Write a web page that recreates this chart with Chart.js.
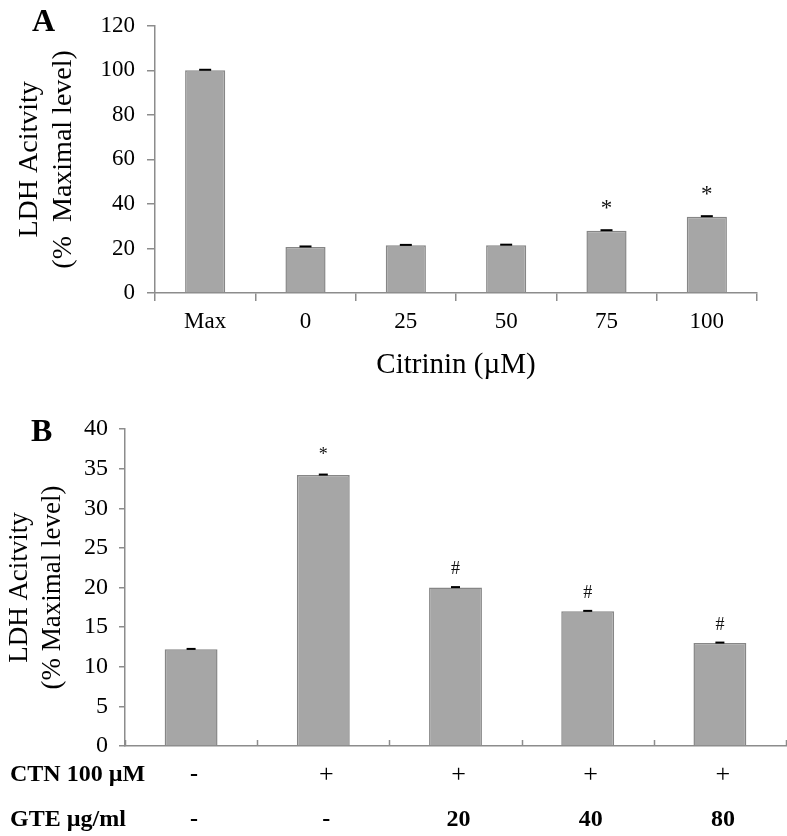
<!DOCTYPE html>
<html>
<head>
<meta charset="utf-8">
<script src="https://cdn.jsdelivr.net/npm/chart.js@4.4.1/dist/chart.umd.min.js"></script>
<style>
body { margin: 0; background: #fff; }
canvas { display: block; }
</style>
</head>
<body>
<canvas id="chartA" width="787" height="380"></canvas>
<canvas id="chartB" width="787" height="456"></canvas>
<script>
// Панель A: цитринин
const citrininLabels = ['Max', '0', '25', '50', '75', '100'];
const citrininValues = [100, 20.7, 21.4, 21.5, 28.0, 34.3];
const citrininErrors = [0.25, 0.2, 0.2, 0.2, 0.2, 0.2];
const citrininMarks = ['', '', '', '', '*', '*'];

// Панель B: CTN + GTE
const groupLabels = ['1', '2', '3', '4', '5'];
const ctnRow = ['-', '+', '+', '+', '+'];
const gteRow = ['-', '-', '20', '40', '80'];
const ldhValues = [12.2, 34.2, 20.0, 17.0, 13.0];
const ldhErrors = [0.05, 0.05, 0.05, 0.05, 0.05];
const ldhMarks = ['', '*', '#', '#', '#'];

const SERIF = "'Liberation Serif', 'Times New Roman', serif";
const AXIS = '#8c8c8c';
const BAR_FILL = '#a6a6a6';
const BAR_EDGE = '#868686';

// ошибки и значки над столбиками
function makeExtras(values, errors, marks, markFont, markGap, capW) {
    return {
        id: 'extras',
        afterDatasetsDraw(chart) {
            const ctx = chart.ctx;
            const y = chart.scales.y;
            const meta = chart.getDatasetMeta(0);
            ctx.save();
            meta.data.forEach((bar, i) => {
                const hi = y.getPixelForValue(values[i] + errors[i]);
                const lo = y.getPixelForValue(values[i] - errors[i]);
                ctx.fillStyle = '#000';
                ctx.fillRect(bar.x - capW / 2, hi - 1, capW, Math.max(2, lo - hi));
                if (marks[i]) {
                    ctx.font = markFont;
                    ctx.textAlign = 'center';
                    ctx.textBaseline = 'middle';
                    ctx.fillStyle = '#111';
                    ctx.fillText(marks[i], bar.x, bar.y - markGap[marks[i]]);
                }
            });
            ctx.restore();
        }
    };
}

function panelLetter(letter, x, y) {
    return {
        id: 'letter',
        afterDraw(chart) {
            const ctx = chart.ctx;
            ctx.save();
            ctx.font = 'bold 32px ' + SERIF;
            ctx.fillStyle = '#000';
            ctx.textAlign = 'left';
            ctx.textBaseline = 'middle';
            ctx.fillText(letter, x, y);
            ctx.restore();
        }
    };
}

// строки под осью на панели B
const rowsPlugin = {
    id: 'rows',
    afterDraw(chart) {
        const ctx = chart.ctx;
        const x = chart.scales.x;
        ctx.save();
        ctx.fillStyle = '#000';
        ctx.textBaseline = 'middle';
        // засечки на оси внутрь
        ctx.strokeStyle = AXIS;
        ctx.lineWidth = 1.5;
        for (let i = 0; i <= groupLabels.length; i++) {
            const px = Math.round(x.getPixelForValue(i - 0.5)) + 0.5;
            ctx.beginPath();
            ctx.moveTo(px, x.top);
            ctx.lineTo(px, x.top - 6);
            ctx.stroke();
        }
        ctx.textAlign = 'left';
        ctx.font = 'bold 24px ' + SERIF;
        ctx.fillText('CTN 100 \u00b5M', 10, 395);
        ctx.fillText('GTE \u00b5g/ml', 10, 440);
        ctx.textAlign = 'center';
        groupLabels.forEach((g, i) => {
            const px = x.getPixelForValue(i) + 3;
            ctx.font = (ctnRow[i] === '+' ? '26px ' : 'bold 24px ') + SERIF;
            ctx.fillText(ctnRow[i], px, 395);
            ctx.font = (gteRow[i] === '+' ? '26px ' : 'bold 24px ') + SERIF;
            ctx.fillText(gteRow[i], px, 440);
        });
        ctx.restore();
    }
};

function barDataset(values) {
    return {
        data: values,
        backgroundColor: BAR_FILL,
        borderColor: BAR_EDGE,
        borderWidth: 1.5,
        categoryPercentage: 1.0,
        barPercentage: 0.4
    };
}

function createCharts() {
    // График A
    new Chart(document.getElementById('chartA'), {
        type: 'bar',
        data: { labels: citrininLabels, datasets: [barDataset(citrininValues)] },
        options: {
            responsive: false,
            animation: false,
            devicePixelRatio: 1,
            layout: { padding: { top: 20, right: 30, bottom: 0, left: 0 } },
            plugins: { legend: { display: false }, tooltip: { enabled: false } },
            scales: {
                y: {
                    min: 0, max: 120,
                    afterFit(s) { s.width = 155; },
                    ticks: { stepSize: 20, padding: 12, color: '#000', font: { family: SERIF, size: 23 } },
                    grid: { drawOnChartArea: false, tickLength: 8, color: AXIS, lineWidth: 1.5 },
                    border: { color: AXIS, width: 1.5 },
                    title: {
                        display: true,
                        text: ['LDH Acitvity', '(%  Maximal level)'],
                        color: '#000',
                        font: { family: SERIF, size: 28, lineHeight: 1.2 },
                        padding: { top: 13, bottom: 0 }
                    }
                },
                x: {
                    afterFit(s) { s.height = 87; },
                    ticks: { padding: 7, color: '#000', font: { family: SERIF, size: 23 } },
                    grid: { drawOnChartArea: false, tickLength: 8, color: AXIS, lineWidth: 1.5 },
                    border: { color: AXIS, width: 1.5 },
                    title: {
                        display: true,
                        text: 'Citrinin (\u00b5M)',
                        color: '#000',
                        font: { family: SERIF, size: 29, lineHeight: 1.2 },
                        padding: { top: 0, bottom: -3 }
                    }
                }
            }
        },
        plugins: [
            makeExtras(citrininValues, citrininErrors, citrininMarks, '23px ' + SERIF, { '*': 22 }, 12),
            panelLetter('A', 32, 23)
        ]
    });

    // График B
    new Chart(document.getElementById('chartB'), {
        type: 'bar',
        data: { labels: groupLabels, datasets: [barDataset(ldhValues)] },
        options: {
            responsive: false,
            animation: false,
            devicePixelRatio: 1,
            layout: { padding: { top: 49, right: 1, bottom: 0, left: 0 } },
            plugins: { legend: { display: false }, tooltip: { enabled: false } },
            scales: {
                y: {
                    min: 0, max: 40,
                    afterFit(s) { s.width = 125; },
                    ticks: { stepSize: 5, padding: 11, color: '#000', font: { family: SERIF, size: 24 } },
                    grid: { drawOnChartArea: false, tickLength: 6, color: AXIS, lineWidth: 1.5 },
                    border: { color: AXIS, width: 1.5 },
                    title: {
                        display: true,
                        text: ['LDH Acitvity', '(% Maximal level)'],
                        color: '#000',
                        font: { family: SERIF, size: 27, lineHeight: 1.2 },
                        padding: { top: 4, bottom: 0 }
                    }
                },
                x: {
                    afterFit(s) { s.height = 90; },
                    ticks: { display: false },
                    grid: { display: false },
                    border: { color: AXIS, width: 1.5 }
                }
            }
        },
        plugins: [
            makeExtras(ldhValues, ldhErrors, ldhMarks, '18px ' + SERIF, { '*': 20, '#': 18 }, 9),
            panelLetter('B', 31, 53),
            rowsPlugin
        ]
    });
}

window.onload = function() {
    createCharts();
};
</script>
</body>
</html>
